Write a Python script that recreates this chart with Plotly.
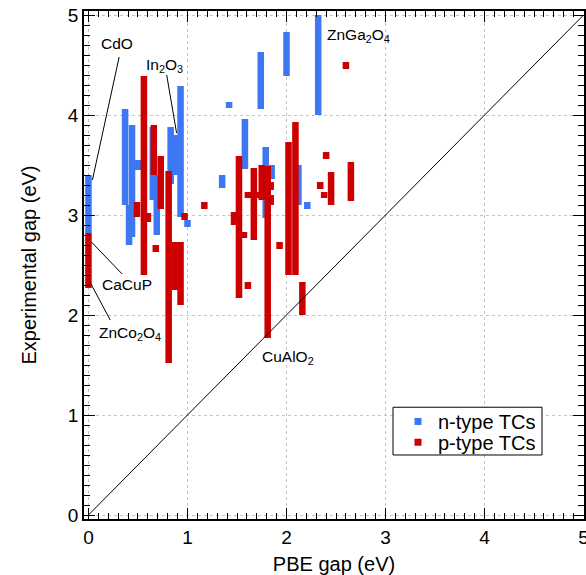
import plotly.graph_objects as go

# ---- data: (PBE gap, experimental gap range) ----
n_x    = [0.00, 0.37, 0.41, 0.44, 0.50, 0.65, 0.69, 0.83, 0.88, 0.93, 1.00,
          1.35, 1.42, 1.58, 1.74, 1.79, 1.85, 2.00, 2.12, 2.21, 2.32]
n_low  = [2.82, 3.10, 2.70, 2.78, 3.45, 3.15, 2.80, 3.31, 3.40, 2.98, 2.88,
          3.27, 4.07, 3.46, 4.06, 2.97, 3.36, 4.39, 3.10, 3.06, 4.00]
n_high = [3.40, 4.06, 3.10, 3.90, 3.55, 3.88, 3.40, 3.88, 3.80, 4.29, 2.95,
          3.40, 4.13, 3.96, 4.63, 3.68, 3.50, 4.83, 3.50, 3.13, 5.00]

p_x    = [0.00, 0.56, 0.49, 0.60, 0.66, 0.73, 0.68, 0.81, 0.87, 0.93, 0.97,
          1.17, 1.52, 1.47, 1.57, 1.61, 1.67, 1.61, 1.73, 1.75, 1.84, 1.84,
          1.81, 1.93, 2.02, 2.09, 2.16, 2.40, 2.34, 2.45, 2.38, 2.65, 2.60]
p_low  = [2.27, 2.40, 2.98, 2.93, 3.40, 3.06, 2.63, 1.52, 2.25, 2.10, 2.95,
          3.06, 2.17, 2.90, 2.77, 2.26, 2.75, 3.17, 3.17, 3.15, 3.25, 3.10,
          1.77, 2.66, 2.40, 2.40, 2.00, 3.56, 3.26, 3.10, 3.17, 3.14, 4.46]
p_high = [2.82, 4.39, 3.13, 3.02, 3.90, 3.59, 2.70, 3.44, 2.73, 2.73, 3.02,
          3.13, 3.59, 3.03, 2.83, 2.33, 3.47, 3.23, 3.23, 3.50, 3.33, 3.20,
          3.49, 2.73, 3.73, 3.93, 2.33, 3.63, 3.33, 3.43, 3.23, 3.53, 4.53]

series_names = ["n-type TCs", "p-type TCs"]
BLUE = "#3D78F2"
RED = "#CC0000"
FONT = "Liberation Sans, Arial, Helvetica, sans-serif"
BAR_W = 0.066

fig = go.Figure()

# diagonal y = x
diag = [0, 5]
fig.add_trace(go.Scatter(x=diag, y=diag, mode="lines",
                         line=dict(color="black", width=1), showlegend=False,
                         hoverinfo="skip"))

fig.add_trace(go.Bar(x=n_x, y=[h - l for h, l in zip(n_high, n_low)], base=n_low,
                     width=BAR_W, marker=dict(color=BLUE, line=dict(width=0)),
                     showlegend=False))
fig.add_trace(go.Bar(x=p_x, y=[h - l for h, l in zip(p_high, p_low)], base=p_low,
                     width=BAR_W, marker=dict(color=RED, line=dict(width=0)),
                     showlegend=False))

# legend entries (small squares), one legend per row for tight spacing
for name, col, lg in zip(series_names, [BLUE, RED], ["legend", "legend2"]):
    fig.add_trace(go.Scatter(x=[None], y=[None], mode="markers", name=name,
                             legend=lg,
                             marker=dict(symbol="square", size=7, color=col)))

# legend frame (paper coords)
fig.add_shape(type="rect", xref="paper", yref="paper",
              x0=0.618, x1=0.916, y0=0.126, y1=0.220,
              line=dict(color="black", width=1), fillcolor="white", layer="above")

# annotations
labels = [
    ("CdO", 0.284, 4.72),
    ("In<sub>2</sub>O<sub>3</sub>", 0.77, 4.50),
    ("CaCuP", 0.385, 2.31),
    ("ZnCo<sub>2</sub>O<sub>4</sub>", 0.42, 1.82),
    ("CuAlO<sub>2</sub>", 2.01, 1.58),
    ("ZnGa<sub>2</sub>O<sub>4</sub>", 2.73, 4.80),
]
for t, ax_, ay_ in labels:
    fig.add_annotation(x=ax_, y=ay_, text=t, showarrow=False,
                       font=dict(family=FONT, size=15.5, color="black"))

pointers = [
    (0.31, 4.58, 0.04, 3.35),
    (0.79, 4.40, 0.89, 3.82),
    (0.03, 2.73, 0.34, 2.41),
    (0.015, 2.33, 0.22, 1.95),
]
for x0, y0, x1, y1 in pointers:
    fig.add_shape(type="line", x0=x0, y0=y0, x1=x1, y1=y1,
                  line=dict(color="black", width=1))

axis_common = dict(
    showline=True, linecolor="black", linewidth=1.5, mirror="allticks",
    ticks="inside", ticklen=11, tickwidth=1.2, tickcolor="black",
    dtick=1, tick0=0, automargin=False, ticklabeloverflow="allow",
    minor=dict(ticks="inside", ticklen=6, tickwidth=1, tickcolor="black",
               dtick=0.1, showgrid=False),
    showgrid=True, gridcolor="#c4c4c4", gridwidth=1, griddash="dot",
    zeroline=False,
    tickfont=dict(family=FONT, size=19, color="black"),
)

leg_common = dict(xanchor="left", yanchor="middle", borderwidth=0,
                  bgcolor="rgba(0,0,0,0)",
                  font=dict(family=FONT, size=20, color="black"))

fig.update_layout(
    width=586, height=575,
    margin=dict(l=84, r=2, t=11, b=56, autoexpand=False),
    plot_bgcolor="white", paper_bgcolor="white",
    barmode="overlay",
    xaxis=dict(range=[-0.045, 5.004],
               title=dict(text="PBE gap (eV)", font=dict(family=FONT, size=20, color="black"),
                          standoff=16),
               **axis_common),
    yaxis=dict(range=[-0.04, 5.04],
               title=dict(text="Experimental gap (eV)", font=dict(family=FONT, size=20, color="black"),
                          standoff=26),
               **axis_common),
    legend=dict(x=0.628, y=0.192, **leg_common),
    legend2=dict(x=0.628, y=0.151, **leg_common),
    showlegend=True,
)

fig.write_html("out.html")
